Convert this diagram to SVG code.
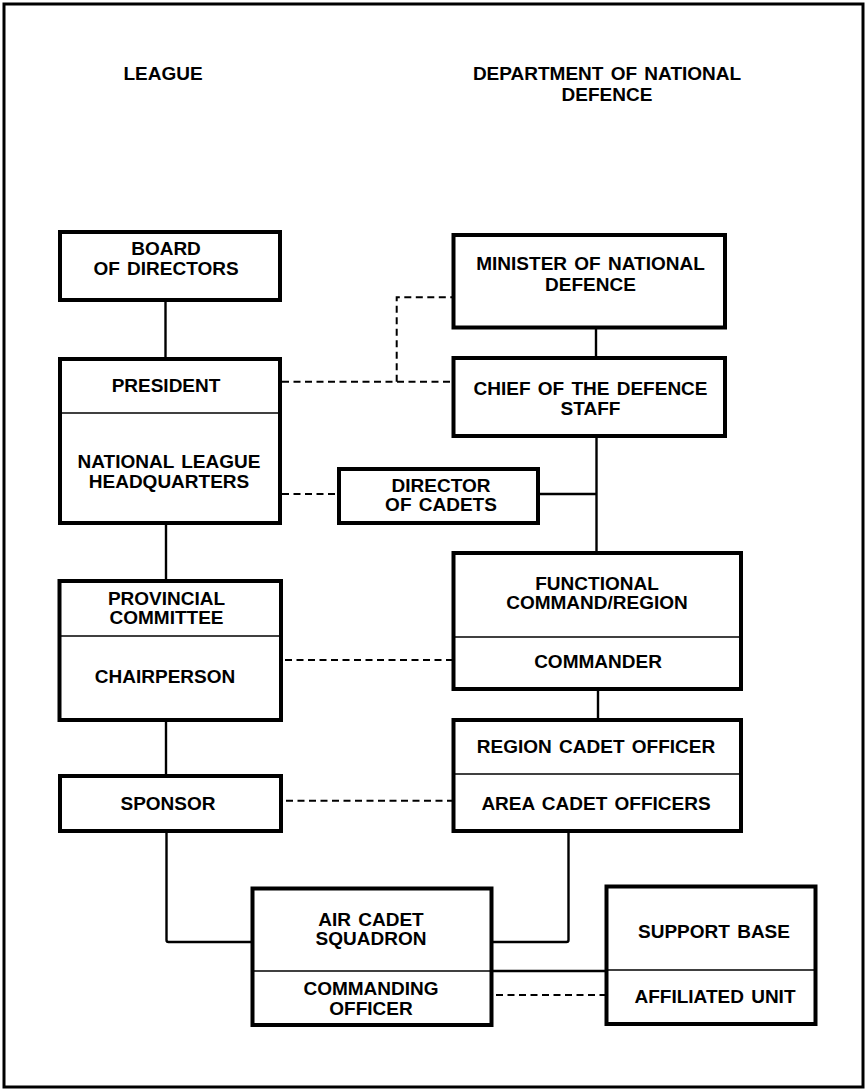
<svg xmlns="http://www.w3.org/2000/svg" width="867" height="1090" viewBox="0 0 867 1090">
<style>
.frame{fill:#fff;stroke:#000;stroke-width:3}
.box{fill:#fff;stroke:#000;stroke-width:4}
.div{stroke:#000;stroke-width:1.6;fill:none}
.ln{stroke:#000;stroke-width:2.4;fill:none;stroke-linejoin:round}
.dash{stroke:#000;stroke-width:2;fill:none;stroke-dasharray:7 4.5}
text{font-family:"Liberation Sans",Arial,sans-serif;font-weight:bold;font-size:19px;fill:#000;text-anchor:middle;word-spacing:2px}
</style>
<rect class="frame" x="4" y="4" width="859" height="1083"/>
<g id="headers">
<text x="163" y="80">LEAGUE</text>
<text x="607" y="80">DEPARTMENT OF NATIONAL</text>
<text x="607" y="101">DEFENCE</text>
</g>
<g id="connectors">
<line class="ln" x1="165.5" y1="300" x2="165.5" y2="359"/>
<line class="ln" x1="596" y1="327" x2="596" y2="358"/>
<line class="dash" x1="282" y1="381.7" x2="453" y2="381.7"/>
<polyline class="dash" points="396.7,381.7 396.7,297.3 453,297.3"/>
<line class="ln" x1="166" y1="523" x2="166" y2="581"/>
<line class="dash" x1="282" y1="494" x2="339" y2="494"/>
<line class="ln" x1="538" y1="494" x2="596.5" y2="494"/>
<line class="ln" x1="596.5" y1="436" x2="596.5" y2="553"/>
<line class="dash" x1="285" y1="660" x2="453" y2="660"/>
<line class="ln" x1="166" y1="720" x2="166" y2="776"/>
<line class="ln" x1="598" y1="689" x2="598" y2="720"/>
<line class="dash" x1="286" y1="800.7" x2="453" y2="800.7"/>
<path class="ln" d="M166.5 831 V940 Q166.5 942 168.5 942 H252.5"/>
<path class="ln" d="M568.5 831 V940 Q568.5 942 566.5 942 H491.5"/>
<line class="ln" x1="491.5" y1="971" x2="606.5" y2="971"/>
<line class="dash" x1="496" y1="995" x2="606.5" y2="995"/>
</g>
<g id="board">
<rect class="box" x="60" y="232" width="220" height="68"/>
<text x="166" y="255">BOARD</text>
<text x="166" y="274.5">OF DIRECTORS</text>
</g>
<g id="president">
<rect class="box" x="60" y="359" width="220" height="164"/>
<line class="div" x1="60" y1="413" x2="280" y2="413"/>
<text x="166" y="391.5">PRESIDENT</text>
<text x="169" y="468">NATIONAL LEAGUE</text>
<text x="169" y="487.5">HEADQUARTERS</text>
</g>
<g id="provincial">
<rect class="box" x="59.5" y="581" width="221.5" height="139"/>
<line class="div" x1="59.5" y1="636" x2="281" y2="636"/>
<text x="166.5" y="605">PROVINCIAL</text>
<text x="166.5" y="624">COMMITTEE</text>
<text x="165" y="683">CHAIRPERSON</text>
</g>
<g id="sponsor">
<rect class="box" x="60" y="776" width="221" height="55"/>
<text x="168" y="809.5">SPONSOR</text>
</g>
<g id="minister">
<rect class="box" x="453.5" y="235" width="271.5" height="92.5"/>
<text x="590.5" y="270">MINISTER OF NATIONAL</text>
<text x="590.5" y="290.5">DEFENCE</text>
</g>
<g id="chief">
<rect class="box" x="453.5" y="358" width="271.5" height="78"/>
<text x="590.5" y="395">CHIEF OF THE DEFENCE</text>
<text x="590.5" y="414.5">STAFF</text>
</g>
<g id="director">
<rect class="box" x="339" y="469" width="199" height="54"/>
<text x="441" y="492">DIRECTOR</text>
<text x="441" y="511">OF CADETS</text>
</g>
<g id="functional">
<rect class="box" x="453.5" y="553" width="287.5" height="136"/>
<line class="div" x1="453.5" y1="637" x2="741" y2="637"/>
<text x="597" y="590">FUNCTIONAL</text>
<text x="597" y="609">COMMAND/REGION</text>
<text x="598" y="668">COMMANDER</text>
</g>
<g id="region">
<rect class="box" x="453.5" y="720" width="287.5" height="111"/>
<line class="div" x1="453.5" y1="774" x2="741" y2="774"/>
<text x="596" y="753">REGION CADET OFFICER</text>
<text x="596" y="810">AREA CADET OFFICERS</text>
</g>
<g id="squadron">
<rect class="box" x="252.5" y="888.5" width="239" height="136.5"/>
<line class="div" x1="252.5" y1="971" x2="491.5" y2="971"/>
<text x="371" y="926">AIR CADET</text>
<text x="371" y="945">SQUADRON</text>
<text x="371" y="995">COMMANDING</text>
<text x="371" y="1015">OFFICER</text>
</g>
<g id="support">
<rect class="box" x="606.5" y="886.5" width="209" height="137.5"/>
<line class="div" x1="606.5" y1="970" x2="815.5" y2="970"/>
<text x="714" y="938">SUPPORT BASE</text>
<text x="715" y="1003">AFFILIATED UNIT</text>
</g>
</svg>
